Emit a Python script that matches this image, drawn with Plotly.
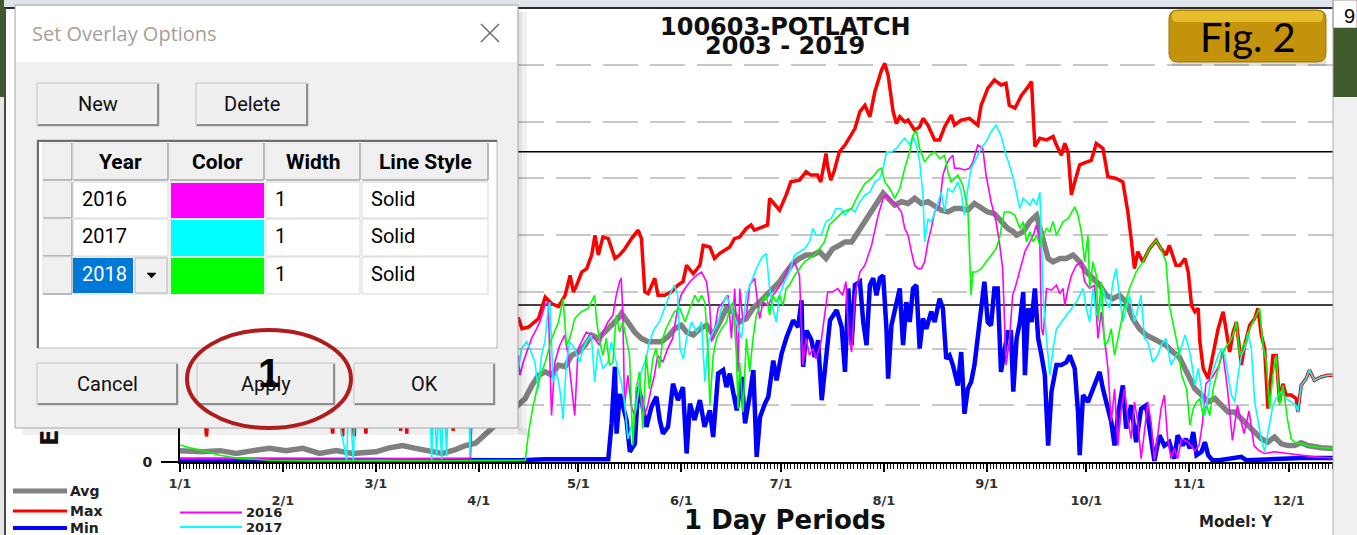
import plotly.graph_objects as go

# ---------------- data (day of year, value) ----------------
month_days = [0, 31, 59, 90, 120, 151, 181, 212, 243, 273, 304, 334]
month_labels = ["1/1", "2/1", "3/1", "4/1", "5/1", "6/1", "7/1", "8/1", "9/1", "10/1", "11/1", "12/1"]
y_grid_values = [0, 1, 2, 3, 4, 5, 6, 7]
threshold_levels = [5.47, 2.77]

avg_day = [0, 7, 12, 17, 22, 27, 32, 37, 42, 47, 52, 59, 63, 67, 71, 75, 79, 83, 86, 89, 92, 95, 98, 100,
           102, 104, 106, 108, 110, 112, 114, 116, 118, 120, 122, 124, 126, 128, 130, 132, 133, 135, 137, 139,
           141, 143, 145, 147, 149, 151, 152.6, 154.6, 156.6, 158.6, 160.6, 162.6, 164.6, 166.6, 168.6, 170.6,
           172.6, 174.6, 176.6, 178.6, 180.6, 182.6, 184.6, 186.6, 188.6, 190.6, 192.6, 194.6, 196.6, 198.6,
           200.3, 202.3, 204.3, 206.3, 208.3, 210.3, 211.8, 213.3, 215.3, 217.3, 219.3, 221.3, 223.3, 225.3,
           227.3, 229.3, 231.3, 233.3, 235.3, 237.3, 239.3, 241.3, 243.3, 245.3, 247.3, 249.3, 251, 252, 254,
           256, 258, 259, 260, 261.5, 263, 265, 267, 269, 271, 273, 275, 277, 279, 281, 283, 285, 287, 289,
           291, 293, 295, 297, 299, 301, 303.7, 305.7, 307.7, 309.7, 311.7, 313.7, 315.7, 317.7, 319.7, 321.7,
           323.7, 325.7, 327.7, 329.7, 331.7, 333.7, 335.7, 337.7, 339.7, 341.7, 343.7, 347.3]
avg_val = [0.2, 0.18, 0.2, 0.15, 0.2, 0.24, 0.2, 0.24, 0.15, 0.2, 0.15, 0.18, 0.25, 0.29, 0.24, 0.2, 0.15,
           0.22, 0.29, 0.33, 0.5, 0.65, 0.8, 0.9,
           1.0, 1.12, 1.35, 1.53, 1.59, 1.53, 1.71, 1.68, 1.88, 1.94, 2.06, 2.24, 2.18, 2.29, 2.41, 2.53, 2.62,
           2.47, 2.29, 2.18, 2.12, 2.12, 2.12, 2.21, 2.35, 2.41, 2.29, 2.24, 2.35, 2.41, 2.24, 2.47, 2.71, 2.65,
           2.47, 2.53, 2.71, 2.82, 2.94, 3.06, 3.18, 3.35, 3.5, 3.59, 3.65, 3.65, 3.71, 3.59, 3.76, 3.82,
           3.88, 3.88, 4.06, 4.24, 4.41, 4.59, 4.74, 4.65, 4.53, 4.59, 4.56, 4.65, 4.56, 4.59, 4.5, 4.44, 4.41,
           4.47, 4.47, 4.44, 4.56, 4.47, 4.41, 4.38, 4.24, 4.12, 4.06, 4.0, 4.06, 4.24, 4.35, 4.12, 3.88, 3.59,
           3.53, 3.59, 3.59, 3.65, 3.53, 3.35, 3.24, 3.12, 2.94, 2.88, 2.94, 2.82, 2.53, 2.35, 2.24, 2.18, 2.12,
           2.06, 1.94, 1.85, 1.53, 1.29, 1.18, 1.06, 1.12, 1.0, 0.88, 0.88, 0.76, 0.65, 0.53, 0.41, 0.35, 0.44,
           0.32, 0.29, 0.29, 0.34, 0.29, 0.26, 0.25, 0.24]

max_day = [0, 3, 6, 8, 9.5, 12, 16, 19, 21, 22, 26, 30, 34, 38, 42, 46, 47, 49, 50, 52.5, 53.5, 56, 57, 60,
           63, 66.5, 67.5, 68.3, 69.5, 72, 76, 80, 82.3, 83.3, 86, 90, 94, 98,
           102, 103, 105, 108, 110, 112, 114, 116, 117.5, 118.5, 119.5, 121, 122.5, 124, 125, 126, 127.4, 129,
           131, 132.4, 134, 136, 138, 139, 140, 141, 143, 144, 146, 148, 150, 151.5, 152.6, 154.6, 156.6,
           157.6, 159.6, 161, 162.6, 165.6, 167, 168.6, 170.6, 172, 173, 175.6, 177, 177.6, 179, 180.6, 182.6,
           184, 186.6, 188.6, 190, 192, 193, 194.6, 195, 196, 197, 198.6, 200.3, 201.6, 203.3, 204.8, 206.3,
           207.8, 209.3, 211.3, 212.3, 213.3, 214.8, 215.8, 216.8, 218.3, 219.3, 221.3, 222.8, 223.8, 225.3,
           227.3, 228.8, 230.3, 232.3, 233.3, 235.3, 237.8, 240.3, 241.3, 243.3, 245.3, 247.3, 248.8, 249.8,
           251.5, 253.5, 255.5, 256.5, 257, 257.5, 259, 261, 263, 264, 265.5, 266.5, 267.5, 268.5, 269.5, 271,
           273, 274.5, 276, 278, 279.5, 282, 284, 285.5, 286.5, 287.5, 288.5, 290, 292, 294, 295.5, 297, 298,
           300, 301.2, 302.7, 303.7, 304.7, 305.7, 306.7, 307.2, 308.2, 309.7, 311.2, 312.7, 314.2, 315.2,
           316.2, 317.2, 318.2, 319.7, 320.7, 322.2, 323.7, 324.7, 325.7, 326.7, 327.7, 329.2, 330.2, 331.2,
           332.2, 333.2, 334.7, 336.2, 336.7, 337.7, 339.2, 340.2, 341.7, 343.7, 345.7, 347.3]
max_val = [2.2, 2.6, 1.8, 0.45, 1.9, 2.4, 2.9, 2.2, 0.6, 2.0, 2.5, 3.0, 2.7, 3.2, 2.6, 0.5, 2.3, 0.45, 2.5,
           0.45, 2.8, 0.5, 2.6, 3.1, 2.7, 0.55, 2.9, 0.5, 2.4, 2.9, 3.3, 2.8, 0.55, 2.6, 3.0, 2.7, 2.9, 2.6,
           2.53, 2.35, 2.38, 2.53, 2.91, 2.79, 2.74, 2.94, 3.29, 3.0, 3.12, 3.35, 3.41, 3.65, 4.0, 3.65, 3.97,
           3.94, 3.59, 3.65, 3.76, 3.94, 4.09, 3.94, 3.0, 2.97, 3.24, 2.94, 2.94, 3.0, 3.12, 3.18, 3.47, 3.32,
           3.47, 3.82, 3.79, 3.59, 3.68, 3.79, 3.94, 3.97, 4.12, 4.18, 4.09, 4.15, 4.18, 4.65, 4.56, 4.44,
           4.71, 4.94, 4.97, 5.12, 5.06, 5.06, 4.94, 5.44, 5.24, 4.97, 5.12, 5.47, 5.59, 5.71, 5.88, 6.18,
           6.29, 6.09, 6.53, 6.91, 7.03, 6.82, 6.18, 5.97, 6.09, 6.0, 6.03, 5.85, 5.91, 6.06, 5.94, 5.68, 5.68,
           5.91, 6.12, 5.94, 6.03, 6.06, 5.94, 6.29, 6.59, 6.74, 6.65, 6.68, 6.29, 6.24, 6.47, 6.62, 6.71,
           6.12, 5.56, 5.71, 5.68, 5.74, 5.59, 5.41, 5.62, 5.47, 4.71, 4.94, 5.24, 5.29, 5.32, 5.62, 5.53,
           5.03, 5.0, 4.94, 4.41, 3.94, 3.41, 3.71, 3.53, 3.76, 3.91, 3.76, 3.65, 3.82, 3.47, 3.47, 3.59, 3.35,
           2.76, 2.65, 2.71, 2.12, 1.65, 1.47, 1.88, 2.35, 2.65, 2.29, 1.94, 2.29, 2.47, 1.71, 2.06, 2.41,
           2.53, 2.71, 2.24, 2.0, 0.94, 1.88, 1.88, 1.06, 1.38, 1.18, 1.18, 1.12, 0.88, 1.35, 1.47, 1.62,
           1.44, 1.5, 1.53, 1.53]

min_day = [0, 30, 60, 90, 102.4, 110, 129, 130, 131, 131.5, 132.5, 133.5, 134.5, 135.5, 137, 138, 139,
           140.5, 142, 143.5, 144.5, 145.5, 147, 148.5, 150, 151.5, 152.6, 153.6, 155, 156.6, 158, 159.6,
           160.6, 162.1, 163.6, 164.6, 165.6, 166.7, 167.7, 169.2, 170.2, 171.7, 172.7, 173.7, 174.7, 176.2,
           177.2, 178.7, 179.7, 181.2, 182.7, 184.7, 186.2, 187.2, 187.7, 188.7, 190.2, 191.2, 192.2, 193.3,
           194.3, 195.8, 197.8, 199.3, 200.3, 201.3, 202.3, 203.3, 204.8, 205.8, 206.8, 207.8, 208.8, 209.8,
           210.8, 211.8, 212.8, 213.3, 214.3, 215.8, 216.8, 217.8, 218.8, 219.8, 220.8, 221.8, 222.8, 223.8,
           224.8, 226.3, 227.3, 228.8, 229.8, 230.8, 231.8, 232.8, 234.3, 235.3, 236.3, 237.3, 238.3, 239.3,
           240.3, 241.3, 242.3, 243.3, 244.3, 245.3, 246.3, 247.3, 248.3, 249.3, 250.3, 251, 252, 253, 254,
           254.5, 255.5, 256.5, 257.5, 258.5, 259.5, 260.5, 261.5, 262.5, 264, 265.5, 267, 268, 269.5, 270.5,
           271, 272, 273.5, 275, 277, 278, 279, 280.5, 281.5, 282.5, 284, 285, 286.5, 288, 289.5, 291, 292.5,
           293.5, 295, 296.5, 298, 299.5, 300.5, 302, 303, 304.2, 305.2, 306.2, 307.7, 308.7, 309.7, 311, 313,
           316.7, 319.7, 321.2, 325.7, 329.7, 337.7, 347.3]
min_val = [0.04, 0.04, 0.03, 0.03, 0.03, 0.05, 0.05, 0.68, 1.68, 0.5, 1.2, 0.97, 0.74, 0.18, 0.32, 1.32,
           1.09, 0.62, 0.97, 1.15, 0.74, 0.5, 0.62, 1.38, 1.09, 1.32, 0.15, 1.03, 0.74, 1.09, 0.62, 0.91, 0.44,
           1.56, 1.62, 1.32, 1.56, 1.21, 0.91, 1.5, 0.68, 1.21, 1.62, 0.09, 0.79, 1.03, 1.15, 1.79, 1.44, 1.91,
           2.2, 2.5, 2.38, 2.85, 1.68, 2.32, 2.15, 1.85, 2.15, 1.09, 1.68, 2.5, 2.68, 2.38, 1.59, 3.06, 2.06,
           3.12, 3.18, 2.47, 2.06, 3.12, 3.24, 2.94, 3.24, 3.29, 2.35, 1.47, 2.41, 2.82, 3.06, 2.06, 2.82,
           2.47, 3.06, 3.12, 2.0, 2.53, 2.35, 2.65, 2.47, 2.88, 2.71, 1.82, 1.88, 1.71, 1.35, 1.94, 0.85, 1.29,
           1.41, 1.71, 2.18, 2.65, 3.18, 2.47, 2.41, 3.06, 3.06, 1.59, 2.0, 2.29, 2.29, 1.24, 2.18, 2.47, 3.0,
           1.53, 2.71, 2.47, 3.06, 2.18, 1.88, 1.53, 0.29, 1.24, 1.71, 1.71, 1.76, 1.88, 1.65, 0.88, 0.12,
           1.18, 1.06, 1.29, 1.59, 1.29, 1.06, 0.71, 0.29, 0.82, 1.35, 0.59, 1.0, 0.35, 0.94, 1.0, 0.41, 0.02,
           0.47, 0.29, 0.35, 0.06, 0.47, 0.29, 0.41, 0.24, 0.53, 0.12, 0.18, 0.35, 0.12, 0.03, 0.03, 0.06,
           0.09, 0.03, 0.04, 0.04, 0.07, 0.07]

y2016_day = [0, 30, 60, 87.5, 88.5, 91, 94, 97, 100, 101.9, 102.4, 103.4, 104.9, 105.9, 106.9, 108.4, 109.9,
             110.9, 111.9, 112.9, 114.4, 115.9, 116.9, 117.9, 118.9, 119.9, 120.9, 122.4, 123.9, 125.4, 126.4,
             127.4, 128.9, 130.4, 131.4, 132.4, 132.9, 133.4, 133.9, 134.9, 135.9, 136.9, 138.4, 139.9, 140.9,
             141.9, 142.9, 143.9, 145.4, 146.9, 148.4, 149.9, 150.9, 152.1, 153.6, 155.6, 157.1, 158.6, 159.6,
             160.1, 161.1, 162.1, 163.6, 165.1, 166.1, 167.1, 168.1, 168.6, 169.6, 170.6, 171.6, 173.1, 174.6,
             175.6, 177.1, 178.6, 180.1, 181.6, 183.1, 185.1, 186.6, 187.6, 188.6, 189.6, 190.6, 191.6, 193.1,
             194.1, 195.1, 196.6, 198.1, 199.6, 200.6, 201.3, 202.3, 203.3, 204.8, 206.3, 208.3, 210.3, 211.8,
             212.8, 214.3, 215.8, 217.3, 218.3, 219.3, 220.3, 221.3, 222.3, 223.3, 224.3, 225.3, 226.3, 227.3,
             228.8, 229.8, 230.8, 231.8, 232.8, 233.3, 234.8, 236.3, 237.8, 238.8, 240.3, 241.8, 242.8, 244.3,
             245.8, 246.8, 247.8, 248.3, 248.8, 249.8, 250.8, 251.5, 253, 254.5, 256, 257, 258, 259, 259.5, 260,
             261, 262.5, 264, 265, 266, 266.5, 267.5, 268.5, 270, 271.5, 272.5, 274, 275.5, 276.5, 277.5,
             278.5, 279.5, 280.5, 281.5, 282.5, 283.5, 284.5, 285.5, 286.5, 287.5, 288.5, 289.5, 290.5, 291.5,
             292.5, 293.5, 294.5, 295.5, 296.5, 297.5, 298.5, 299.5, 300.5, 301.7, 303.7, 305.7, 307, 308, 309,
             311, 313, 314, 315.5, 317, 318.5, 320.5, 322, 323.5, 325, 326.7, 329.7, 333.7, 337.7, 341.7, 347.3]
y2016_val = [0.06, 0.06, 0.05, 0.07, 1.6, 1.9, 1.4, 2.1, 1.7, 1.88, 1.53, 1.76, 2.0, 2.18, 2.29, 2.47, 2.76,
             2.82, 0.82, 1.76, 2.06, 2.24, 1.88, 1.29, 0.82, 2.0, 2.12, 2.29, 2.24, 2.12, 2.06, 2.29, 2.47, 2.59,
             2.94, 3.18, 3.24, 2.59, 1.0, 1.53, 1.0, 0.82, 1.41, 0.82, 1.0, 1.29, 1.53, 1.88, 1.76, 2.0, 2.18,
             2.71, 2.94, 3.06, 3.18, 3.29, 3.35, 3.18, 2.71, 2.12, 2.35, 2.71, 2.82, 2.94, 2.18, 3.06, 1.59,
             3.06, 2.47, 2.59, 3.12, 3.24, 2.53, 2.82, 2.76, 2.94, 3.06, 3.18, 3.41, 3.53, 3.29, 1.71, 2.18,
             1.88, 2.0, 1.82, 2.12, 2.59, 3.0, 3.0, 3.06, 2.94, 3.18, 2.29, 1.94, 2.94, 3.35, 3.47, 3.82, 4.35,
             4.65, 4.71, 4.59, 4.53, 4.41, 4.12, 4.0, 3.71, 3.47, 3.41, 3.41, 3.53, 3.88, 4.12, 4.41, 4.53, 5.06,
             5.24, 5.35, 5.41, 5.18, 5.18, 5.15, 5.18, 5.29, 5.59, 5.53, 5.06, 4.59, 4.24, 3.88, 3.41, 2.35,
             1.71, 2.12, 2.94, 3.06, 3.41, 3.71, 3.88, 4.0, 4.18, 3.88, 2.35, 2.24, 3.06, 3.03, 3.12, 2.97,
             3.06, 2.76, 3.06, 3.29, 3.47, 3.53, 3.18, 3.06, 3.12, 2.18, 2.65, 2.12, 1.65, 0.71, 1.29, 0.29,
             0.94, 1.29, 0.76, 0.41, 1.06, 0.71, 0.06, 0.53, 1.06, 0.71, 0.03, 0.47, 0.94, 1.18, 0.41, 0.06,
             0.24, 0.06, 0.41, 0.35, 0.2, 0.3, 0.7, 1.38, 1.5, 1.7, 1.97, 1.3, 0.38, 1.0, 0.5, 0.9, 0.29, 0.2,
             0.15, 0.18, 0.15, 0.12, 0.09, 0.07]

y2017_day = [0, 5, 10, 15, 20, 25, 30, 35, 40, 45, 50.2, 50.9, 52.2, 52.9, 56, 60, 65, 70, 75, 75.8, 76.5,
             77.3, 78, 78.8, 79.5, 80.3, 81, 84, 87, 87.3, 88, 92, 96,
             100.9, 101.9, 102.9, 104.4, 105.4, 106.9, 107.9, 108.9, 109.9, 110.9, 111.4, 112.4, 113.4, 114.4,
             115.4, 116.4, 117.4, 118.9, 120.4, 121.4, 122.4, 123.9, 124.9, 125.9, 127.4, 128.9, 129.9, 130.9,
             131.9, 132.9, 133.9, 134.9, 136.4, 137.4, 138.9, 140.4, 141.4, 142.9, 144.4, 145.9, 147.4, 148.9,
             149.9, 150.6, 151.6, 152.6, 154.1, 155.6, 157.1, 158.1, 159.1, 160.6, 162.1, 163.1, 164.6, 166.1,
             167.6, 169.1, 170.6, 172.1, 173.6, 175.1, 176.6, 177.6, 178.6, 179.6, 180.6, 182.1, 183.6, 185.1,
             186.6, 188.1, 189.6, 190.6, 191.6, 193.1, 194.6, 196.1, 197.6, 199.1, 200.3, 201.8, 203.3, 204.8,
             206.3, 207.8, 209.3, 210.8, 211.8, 212.8, 214.3, 215.8, 217.3, 218.3, 219.8, 220.8, 221.8, 222.8,
             223.8, 224.3, 225.3, 226.3, 227.8, 229.3, 230.3, 231.3, 232.8, 234.3, 235.3, 236.3, 237.3, 238.3,
             239.8, 241.3, 242.8, 244.3, 245.8, 247.3, 248.8, 249.5, 251, 252, 253, 254, 255, 256, 257, 258,
             259, 259.5, 260, 261, 262, 263, 264, 265.5, 267, 268.5, 270, 271, 272, 273, 274, 275, 276, 277,
             278, 279, 280, 281, 282, 283, 284, 285, 286, 287.5, 288.5, 289.5, 290.5, 291.5, 293, 294.5, 295.5,
             297, 298.5, 300, 301.2, 302.7, 303.7, 304.7, 305.7, 306.7, 307.7, 308.7, 309.7, 310.7, 311.7,
             312.7, 313.7, 314.7, 315.7, 316.7, 317.7, 318.7, 319.7, 320.7, 321.7, 322.7, 323.7, 324.7, 325.7,
             326.7, 328.2, 329.2, 330.2, 331.7, 333.2, 334.7, 336.2, 336.7, 337.7, 339.2, 340.2, 341.7, 343.7,
             345.7, 347.3]
y2017_val = [1.2, 1.6, 1.1, 1.8, 1.4, 2.0, 1.5, 1.9, 1.3, 1.7, 0.03, 1.3, 0.03, 1.5, 1.9, 1.5, 2.1, 1.6, 1.9,
             0.03, 1.2, 0.1, 1.0, 0.05, 1.3, 0.1, 1.5, 1.8, 1.6, 0.1, 1.6, 1.9, 1.5,
             1.41, 1.65, 2.0, 2.12, 2.0, 1.76, 1.29, 1.88, 2.12, 2.71, 2.82, 1.41, 1.59, 1.29, 0.76, 1.76, 2.12,
             2.0, 1.76, 2.0, 2.12, 2.24, 1.41, 2.0, 1.65, 1.76, 2.12, 1.88, 1.65, 1.41, 1.06, 0.41, 0.71, 0.94,
             1.59, 1.82, 2.12, 2.35, 2.47, 2.71, 2.94, 3.12, 2.94, 2.0, 1.82, 2.18, 2.47, 2.29, 2.47, 1.41, 2.12,
             2.29, 2.47, 2.71, 2.94, 2.71, 2.47, 2.18, 2.94, 3.18, 3.41, 3.59, 3.68, 3.06, 2.71, 2.47, 2.94,
             3.18, 3.35, 3.65, 3.71, 3.76, 3.88, 4.12, 4.0, 4.0, 4.24, 4.29, 4.47, 4.47, 4.35, 4.47, 4.41, 4.59,
             4.71, 4.76, 4.94, 5.0, 5.18, 5.47, 5.47, 5.53, 5.65, 5.71, 5.59, 5.76, 5.59, 5.29, 4.71, 3.88,
             4.29, 4.24, 4.47, 4.76, 4.41, 4.82, 4.76, 4.94, 4.76, 4.35, 4.82, 5.18, 5.35, 5.53, 5.65, 5.82,
             5.94, 5.76, 5.41, 5.3, 5.0, 4.71, 4.47, 4.65, 4.59, 4.53, 4.65, 4.53, 4.76, 3.76, 2.94, 2.18, 1.53,
             2.0, 2.35, 2.47, 2.59, 2.71, 2.82, 2.94, 3.06, 2.71, 2.47, 3.06, 2.59, 2.71, 3.06, 2.82, 2.71, 3.18,
             3.41, 2.94, 2.47, 2.71, 2.94, 2.47, 2.71, 2.94, 2.18, 2.12, 1.76, 1.88, 2.06, 2.18, 1.71, 1.88,
             1.94, 2.24, 2.06, 1.76, 1.35, 1.65, 1.29, 0.82, 1.18, 1.53, 1.71, 1.88, 2.0, 1.88, 1.53, 1.18, 1.06,
             1.53, 1.88, 2.0, 2.29, 2.0, 1.06, 0.71, 0.41, 0.18, 0.71, 1.0, 1.12, 1.24, 1.12, 1.06, 1.0, 0.88,
             1.35, 1.47, 1.62, 1.44, 1.5, 1.53, 1.53]

y2018_day = [0, 3, 7, 12, 17, 22, 27, 40, 60, 80, 100, 104, 105, 106.4, 108, 110, 112, 114, 115.4, 116.4,
             117.4, 118.9, 120.9, 122.9, 124.9, 125.4, 126.4, 127.4, 128.4, 129.4, 130.4, 131.4, 132.4, 133.4,
             134.4, 135.4, 136.4, 137.4, 138.4, 139.4, 140.4, 141.4, 142.4, 143.4, 144.4, 145.4, 146.4, 147.4,
             148.9, 150.6, 152.1, 153.6, 155.1, 156.1, 157.1, 158.1, 159.1, 159.6, 160.6, 161.6, 163.1, 164.6,
             165.6, 166.6, 167.6, 168.1, 168.6, 169.6, 170.6, 171.6, 172.6, 173.6, 175.1, 176.6, 177.6, 178.6,
             179.6, 180.6, 181.6, 182.6, 183.6, 185.1, 186.6, 188.1, 189.6, 191.1, 192.6, 194.1, 195.6, 197.6,
             199.6, 202.3, 204.3, 206.3, 208.3, 210.3, 211.3, 212.3, 213.8, 215.3, 216.8, 218.3, 219.8, 220.8,
             221.8, 222.8, 224.3, 225.8, 227.3, 228.8, 230.3, 231.3, 232.3, 234.3, 235.8, 237.3, 238.3, 238.8,
             239.8, 241.3, 242.8, 244.3, 245.8, 246.8, 248.3, 250, 251.5, 253, 254, 255, 256, 257, 258, 259,
             260, 261, 262, 263, 264, 265, 266, 267.5, 269.5, 270.5, 271.5, 272.5, 273.5, 274, 275, 276, 276.5,
             277.5, 278.5, 279.5, 280.5, 281.5, 283, 284.5, 286, 288, 290, 292, 294, 295.5, 297, 298, 299,
             300.7, 301.7, 303.2, 304.2, 305.2, 306.2, 307.2, 308.2, 309.2, 310.2, 311.2, 312.2, 313.2, 314.7,
             316.2, 317.2, 318.2, 319.2, 320.2, 321.2, 322.2, 323.2, 324.2, 325.2, 326.2, 327.2, 328.2, 329.2,
             330.2, 331.2, 332.2, 333.7, 334.7, 335.7, 337.7, 339.7, 342.7, 347.3]
y2018_val = [0.3, 0.25, 0.2, 0.12, 0.07, 0.05, 0.03, 0.02, 0.02, 0.02, 0.02, 0.03, 0.53, 1.0, 1.41, 1.76,
             2.18, 2.47, 2.88, 2.06, 2.18, 2.53, 2.65, 2.71, 2.94, 2.53, 2.12, 1.88, 2.18, 1.71, 1.76, 2.59,
             2.29, 2.47, 2.18, 1.88, 0.29, 1.29, 1.59, 0.59, 1.88, 1.29, 1.82, 2.0, 1.65, 2.18, 2.35, 2.47, 2.65,
             2.71, 2.47, 2.71, 2.94, 2.82, 2.94, 2.82, 1.88, 1.0, 1.88, 2.18, 2.35, 2.47, 2.71, 2.82, 1.88, 0.94,
             1.76, 0.88, 2.18, 1.59, 2.18, 2.59, 2.82, 2.94, 2.59, 2.94, 2.82, 2.94, 2.76, 3.06, 3.12, 3.29, 3.41,
             3.53, 3.59, 3.65, 3.76, 3.88, 4.18, 4.29, 4.41, 4.47, 4.71, 4.91, 5.0, 5.15, 5.18, 4.94, 4.82, 4.65,
             4.82, 5.18, 5.47, 5.76, 5.85, 5.53, 5.29, 5.41, 5.47, 5.35, 5.41, 5.12, 4.94, 5.06, 4.88, 4.47, 2.94,
             3.35, 3.35, 3.41, 3.53, 3.65, 3.76, 3.94, 4.41, 4.41, 4.35, 4.12, 4.24, 3.88, 4.06, 3.88, 4.0, 3.82,
             4.0, 4.12, 4.06, 4.24, 4.0, 4.12, 4.24, 4.29, 4.5, 4.35, 4.06, 3.53, 4.0, 3.06, 3.53, 3.29, 2.47,
             3.18, 2.06, 2.12, 2.35, 1.88, 2.35, 2.76, 3.06, 3.35, 3.53, 3.76, 3.91, 3.76, 3.53, 2.76, 2.47,
             2.0, 1.53, 1.29, 0.65, 0.94, 1.06, 1.12, 0.82, 1.0, 0.82, 1.29, 1.53, 1.76, 2.0, 2.12, 2.24, 2.47,
             1.88, 2.06, 2.12, 2.35, 2.47, 2.59, 2.71, 2.06, 1.76, 0.94, 1.53, 1.88, 1.0, 1.35, 0.71, 0.41, 0.35,
             0.32, 0.29, 0.26, 0.24]

overlay_years = ["2016", "2017", "2018"]
overlay_colors = ["#ff00ff", "#00ffff", "#00ff00"]
overlay_widths = ["1", "1", "1"]
overlay_styles = ["Solid", "Solid", "Solid"]

# ---------------- layout geometry (pixels) ----------------
W, H = 1357, 535
L, R, T, B = 180, 1333, 58, 462
X_MAX = 347.3
Y_MAX = 7.125


def fx(x):
    return (x - L) / (R - L)


def fy(y):
    return (B - y) / (B - T)


shapes = []
annotations = []


def rect(x0, y0, x1, y1, fill, line=None, lw=0, layer="above"):
    shapes.append(dict(type="rect", xref="paper", yref="paper", x0=fx(x0), x1=fx(x1), y0=fy(y1), y1=fy(y0),
                       fillcolor=fill, line=dict(color=line or "rgba(0,0,0,0)", width=lw), layer=layer))


def seg(x0, y0, x1, y1, color, w, layer="above"):
    shapes.append(dict(type="line", xref="paper", yref="paper", x0=fx(x0), y0=fy(y0), x1=fx(x1), y1=fy(y1),
                       line=dict(color=color, width=w), layer=layer))


def rounded(x0, y0, x1, y1, r, fill, line=None, lw=0):
    pts = [("M", x0 + r, y0), ("L", x1 - r, y0), ("Q", x1, y0, x1, y0 + r), ("L", x1, y1 - r),
           ("Q", x1, y1, x1 - r, y1), ("L", x0 + r, y1), ("Q", x0, y1, x0, y1 - r), ("L", x0, y0 + r),
           ("Q", x0, y0, x0 + r, y0)]
    p = ""
    for item in pts:
        cmd = item[0]
        coords = item[1:]
        s = []
        for i in range(0, len(coords), 2):
            s.append("%.5f,%.5f" % (fx(coords[i]), fy(coords[i + 1])))
        p += cmd + " ".join(s) + " "
    p += "Z"
    shapes.append(dict(type="path", xref="paper", yref="paper", path=p, fillcolor=fill,
                       line=dict(color=line or "rgba(0,0,0,0)", width=lw), layer="above"))


def text(x, y, s, size, color="black", family="Roboto", bold=False, xanchor="center", angle=0):
    annotations.append(dict(xref="paper", yref="paper", x=fx(x), y=fy(y), text=s, showarrow=False,
                            xanchor=xanchor, yanchor="middle", textangle=angle, borderpad=0,
                            font=dict(size=size, color=color, family=family,
                                      weight="bold" if bold else "normal")))


# ---------------- figure / traces ----------------
fig = go.Figure()
series = [
    ("Avg", avg_day, avg_val, "#808080", 5.5),
    ("Max", max_day, max_val, "#ff0000", 3.5),
    ("Min", min_day, min_val, "#0000ff", 4.5),
    ("2016", y2016_day, y2016_val, overlay_colors[0], 1.6),
    ("2017", y2017_day, y2017_val, overlay_colors[1], 1.6),
    ("2018", y2018_day, y2018_val, overlay_colors[2], 1.6),
]
for name, xs, ys, col, w in series:
    fig.add_trace(go.Scatter(x=xs, y=ys, mode="lines", name=name, line=dict(color=col, width=w),
                             showlegend=False, hoverinfo="skip"))

# threshold lines
for lev in threshold_levels:
    shapes.append(dict(type="line", xref="paper", yref="y", x0=0, x1=1, y0=lev, y1=lev,
                       line=dict(color="black", width=1.5), layer="between"))

# ---------------- window frame ----------------
rect(0, 0, 1333, 7, "#dfe4ea")
seg(0, 8, 1333, 8, "#2b2b2b", 2)
rect(0, 0, 4, 97, "#3d5a2a")
rect(0, 97, 4, 535, "#e6e6e6")
seg(5, 8, 5, 535, "#4a4a4a", 2)
rect(1333, 0, 1357, 28, "#ffffff", "#9a9a9a", 1)
rect(1333, 28, 1357, 97, "#3f5a2b")
rect(1333, 97, 1357, 535, "#f0f0f0")
seg(1333, 0, 1333, 535, "#a8a8a8", 1)
text(1349, 16, "9", 20, family="Liberation Sans")

# ---------------- Fig. 2 badge ----------------
rect(1172, 58, 1326, 66, "rgba(0,0,0,0.12)")
rounded(1169, 10, 1326, 62, 9, "#c4930b", "#9c7404", 1)
rounded(1172, 11, 1323, 22, 5, "#e6bd2c")
text(1248, 37, "Fig. 2", 40, family="Lato")

# ---------------- chart legend ----------------
legend_left = [("Avg", "#808080", 5, 491), ("Max", "#ff0000", 3, 511), ("Min", "#0000ff", 4, 528)]
for lab, col, w, yy in legend_left:
    seg(13, yy, 67, yy, col, w)
    text(69, yy, lab, 14, "#202020", "DejaVu Sans", True, "left")
legend_right = [("2016", overlay_colors[0], 512.5), ("2017", overlay_colors[1], 527)]
for lab, col, yy in legend_right:
    seg(180, yy, 242, yy, col, 2)
    text(245, yy, lab, 13, "#202020", "DejaVu Sans", True, "left")

# chart texts
text(785, 27, "100603-POTLATCH", 24, "#101010", "DejaVu Sans", True)
text(785, 46, "2003 - 2019", 24, "#101010", "DejaVu Sans", True)
text(785, 520, "1 Day Periods", 26, "#101010", "DejaVu Sans", True)
text(1198, 522, "Model: Y", 15, "#202020", "DejaVu Sans", True, "left")
text(50, 438, "E", 24, "#101010", "DejaVu Sans", True, angle=-90)

# ---------------- dialog ----------------
rect(518, 12, 527, 435, "rgba(0,0,0,0.06)")
rect(22, 428, 527, 435, "rgba(0,0,0,0.06)")
rect(518, 10, 522, 431, "rgba(0,0,0,0.06)")
rect(15, 5, 518, 428, "#f0f0f0", "#a5a5a5", 1)
rect(16, 6, 517, 62, "#ffffff")
text(31, 34, "Set Overlay Options", 20, "#a7a097", "Open Sans", False, "left")
seg(481, 24, 499, 42, "#6a6a6a", 1.5)
seg(499, 24, 481, 42, "#6a6a6a", 1.5)


def button(x0, y0, x1, y1, label):
    rect(x0, y0, x1, y1, "#efefef", "#c4c4c4", 1)
    seg(x0 + 1, y1 - 1, x1, y1 - 1, "#8f8f8f", 2)
    seg(x1 - 1, y0 + 1, x1 - 1, y1, "#8f8f8f", 2)
    text((x0 + x1) / 2, (y0 + y1) / 2 - 0.5, label, 20, "#101010", "Roboto")


button(37, 83, 159, 126, "New")
button(196, 83, 308, 126, "Delete")

# grid
rect(37, 140, 497, 348, "#ffffff", "#b8b8b8", 1)
seg(37, 141, 497, 141, "#6e6e6e", 2)
seg(38, 140, 38, 348, "#6e6e6e", 2)
cols = [(43, 72), (73, 168), (170, 264), (266, 360), (362, 488)]
rows = [(182, 218), (219, 256), (257, 294)]


def raised(x0, y0, x1, y1):
    rect(x0, y0, x1, y1, "#f0f0f0", "#e2e2e2", 1)
    seg(x0, y1, x1, y1, "#a8a8a8", 1.5)
    seg(x1, y0, x1, y1, "#a8a8a8", 1.5)


for (c0, c1) in cols:
    raised(c0, 143, c1, 180)
for (r0, r1) in rows:
    raised(43, r0, 72, r1)
    for (c0, c1) in cols[1:]:
        rect(c0, r0, c1, r1, "#ffffff", "#d8d8d8", 1)

headers = ["Year", "Color", "Width", "Line Style"]
for (c0, c1), h in zip(cols[1:], headers):
    text((c0 + c1) / 2, 162, h, 21, "#000000", "Roboto", True)

for i, (r0, r1) in enumerate(rows):
    rect(171, r0 + 1, 264, r1, overlay_colors[i])
    cy = (r0 + r1) / 2 - 1.5
    if i == 2:
        rect(73, r0 + 1, 133, r1 - 1, "#0078d7")
        rect(135, r0 + 1, 167, r1 - 1, "#f0f0f0", "#b4b4b4", 1)
        shapes.append(dict(type="path", xref="paper", yref="paper",
                           path="M%.5f,%.5f L%.5f,%.5f L%.5f,%.5f Z" % (fx(147), fy(273), fx(156), fy(273),
                                                                    fx(151.5), fy(278)),
                           fillcolor="#000000", line=dict(color="#000000", width=0.5), layer="above"))
        text(81, cy, overlay_years[i], 20, "#ffffff", "Roboto", False, "left")
    else:
        text(81, cy, overlay_years[i], 20, "#000000", "Roboto", False, "left")
    text(274, cy, overlay_widths[i], 20, "#000000", "Roboto", False, "left")
    text(370, cy, overlay_styles[i], 20, "#000000", "Roboto", False, "left")

button(37, 363, 178, 405, "Cancel")
button(197, 363, 335, 405, "Apply")
button(354, 363, 495, 405, "OK")

# annotation marker
shapes.append(dict(type="circle", xref="paper", yref="paper", x0=fx(187), x1=fx(351), y0=fy(428), y1=fy(330),
                   line=dict(color="#b01c1c", width=4), fillcolor="rgba(0,0,0,0)", layer="above"))
text(269, 373, "1", 40, "#000000", "Liberation Sans", True)

# ---------------- layout ----------------
tick_text = [lab if i % 2 == 0 else "<br>" + lab for i, lab in enumerate(month_labels)]
fig.update_layout(
    width=W, height=H, autosize=False,
    margin=dict(l=L, r=W - R, t=T, b=H - B, pad=0),
    paper_bgcolor="#ffffff", plot_bgcolor="#ffffff",
    shapes=shapes, annotations=annotations, showlegend=False, hovermode=False,
    xaxis=dict(range=[0, X_MAX], tickmode="array", tickvals=month_days, ticktext=tick_text,
               ticks="outside", ticklen=8, tickwidth=1.5, tickcolor="black",
               showline=True, linecolor="black", linewidth=2, showgrid=False, zeroline=False,
               tickfont=dict(family="DejaVu Sans", size=13, color="#303030", weight="bold"),
               minor=dict(tickmode="linear", tick0=0, dtick=1, ticks="outside", ticklen=5, tickwidth=1,
                          tickcolor="black", showgrid=False),
               fixedrange=True),
    yaxis=dict(range=[0, Y_MAX], tickmode="array", tickvals=y_grid_values,
               ticktext=["0"] + [""] * (len(y_grid_values) - 1),
               ticks="outside", ticklen=17, tickwidth=1.5, tickcolor="black", ticklabelstandoff=6,
               showline=True, linecolor="black", linewidth=2, zeroline=False,
               showgrid=True, gridcolor="#c8c8c8", gridwidth=2, griddash="35px,12px",
               tickfont=dict(family="DejaVu Sans", size=14, color="#202020", weight="bold"),
               fixedrange=True),
)

fig.write_html("out.html", config={"displayModeBar": False},
               post_script="document.body.style.margin='0px';document.body.style.overflow='hidden';")
